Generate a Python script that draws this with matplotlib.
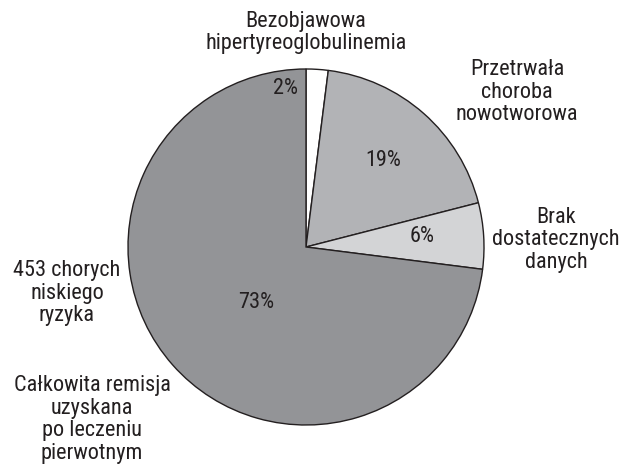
import matplotlib.pyplot as plt

# slice data, clockwise from 12 o'clock
labels = ["Bezobjawowa\nhipertyreoglobulinemia",
          "Przetrwała\nchoroba\nnowotworowa",
          "Brak\ndostatecznych\ndanych",
          "Całkowita remisja\nuzyskana\npo leczeniu\npierwotnym"]
group_label = "453 chorych\nniskiego\nryzyka"
values = [2, 19, 6, 73]
pct_text = ["2%", "19%", "6%", "73%"]
colors = ["#ffffff", "#b2b3b6", "#d3d4d6", "#939497"]

plt.rcParams['font.family'] = ['Roboto Condensed', 'DejaVu Sans']

fig = plt.figure(figsize=(6.24, 4.77), dpi=100)
ax = fig.add_axes([0, 0, 1, 1])

# pixel-like coordinate system (y up)
H = 477
ax.pie(values, colors=colors, startangle=90, counterclock=False,
       center=(306, H - 248), radius=178,
       wedgeprops=dict(edgecolor="#231f20", linewidth=1.0))
ax.set_xlim(0, 624)
ax.set_ylim(0, H)
ax.set_aspect('equal')
ax.axis('off')

fs = 16
tc = "#231f20"
ls = 1.12
# category labels
ax.text(306, H - 32.5, labels[0], ha='center', va='center', fontsize=fs,
        linespacing=ls, color=tc)
ax.text(517, H - 92, labels[1], ha='center', va='center', fontsize=fs,
        linespacing=ls, color=tc)
ax.text(556, H - 240, labels[2], ha='center', va='center', fontsize=fs,
        linespacing=ls, color=tc)
ax.text(67, H - 293, group_label, ha='center', va='center', fontsize=fs,
        linespacing=ls, color=tc)
ax.text(92, H - 419.5, labels[3], ha='center', va='center', fontsize=fs,
        linespacing=ls, color=tc)

# percentages
pct_pos = [(286, 88), (383, 160), (422, 237), (256, 302)]
for (x, y), t in zip(pct_pos, pct_text):
    ax.text(x, H - y, t, ha='center', va='center', fontsize=fs, color=tc)

fig.savefig("out.png", dpi=100)
